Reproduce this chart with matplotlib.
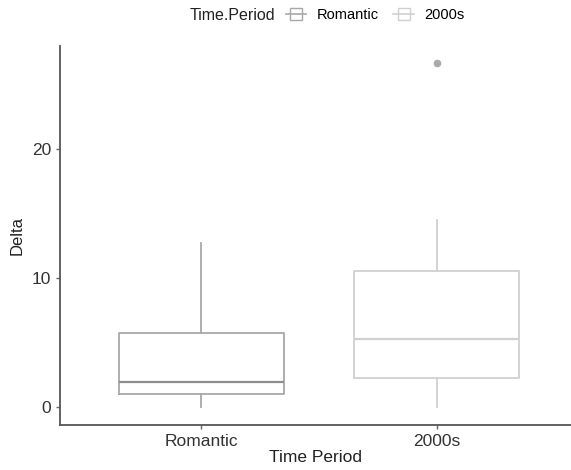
import matplotlib.pyplot as plt
from matplotlib.lines import Line2D

plt.rcParams['font.family'] = ['Liberation Sans', 'DejaVu Sans']

periods = ['Romantic', '2000s']
whisker_low = [0.0, 0.0]
q1 = [1.0, 2.3]
medians = [1.95, 5.3]
q3 = [5.75, 10.6]
whisker_high = [12.7, 14.5]
outliers = [[], [26.7]]
colors = ['#a8a8a8', '#d0d0d0']

stats = []
for i, p in enumerate(periods):
    stats.append({'label': p, 'whislo': whisker_low[i], 'q1': q1[i], 'med': medians[i],
                  'q3': q3[i], 'whishi': whisker_high[i], 'fliers': outliers[i]})

fig = plt.figure(figsize=(5.71, 4.7), dpi=100)
ax = fig.add_axes([60 / 571, 1 - 424.5 / 470, 1 - 60 / 571, (424.5 - 46) / 470])

for i, s in enumerate(stats):
    c = colors[i]
    ax.bxp([s], positions=[i + 1], widths=0.7, showcaps=False,
           boxprops=dict(color=c, lw=1.3),
           whiskerprops=dict(color=c, lw=1.3),
           medianprops=dict(color='#8c8c8c' if i == 0 else c, lw=1.6),
           flierprops=dict(marker='o', markersize=4.5, markerfacecolor='#aaaaaa',
                           markeredgecolor='#aaaaaa'))

ax.set_xlim(0.4, 2.57)
ax.set_ylim(-1.335, 28.0)
ax.set_yticks([0, 10, 20])
ax.set_xticks([1, 2])
ax.set_xticklabels(periods)
ax.tick_params(labelcolor='#333333', labelsize=12.5, length=3, width=1,
               direction='out', color='#666666')
for sp in ['top', 'right']:
    ax.spines[sp].set_visible(False)
for sp in ['left', 'bottom']:
    ax.spines[sp].set_color('#555555')
    ax.spines[sp].set_linewidth(1.3)
ax.set_xlabel('Time Period', fontsize=12.5, color='#222222', labelpad=1)
ax.set_ylabel('Delta', fontsize=12, color='#222222', labelpad=5)

# legend on top: title as plain text, entries as a one-row legend
fig.text(190 / 571, 1 - 15 / 470, 'Time.Period', fontsize=11.5, color='#222222',
         ha='left', va='center')
handles = [Line2D([], [], color=c, lw=1.2, marker='s', markersize=9,
                  markerfacecolor='none', markeredgecolor=c, linestyle='-')
           for c in colors]
fig.legend(handles, periods, loc='center left', bbox_to_anchor=(286 / 571, 1 - 15 / 470),
           ncol=2, frameon=False, fontsize=10.5, handlelength=1.4, columnspacing=1.0,
           handletextpad=0.7, borderaxespad=0, borderpad=0)

fig.savefig('out.png', dpi=100)
